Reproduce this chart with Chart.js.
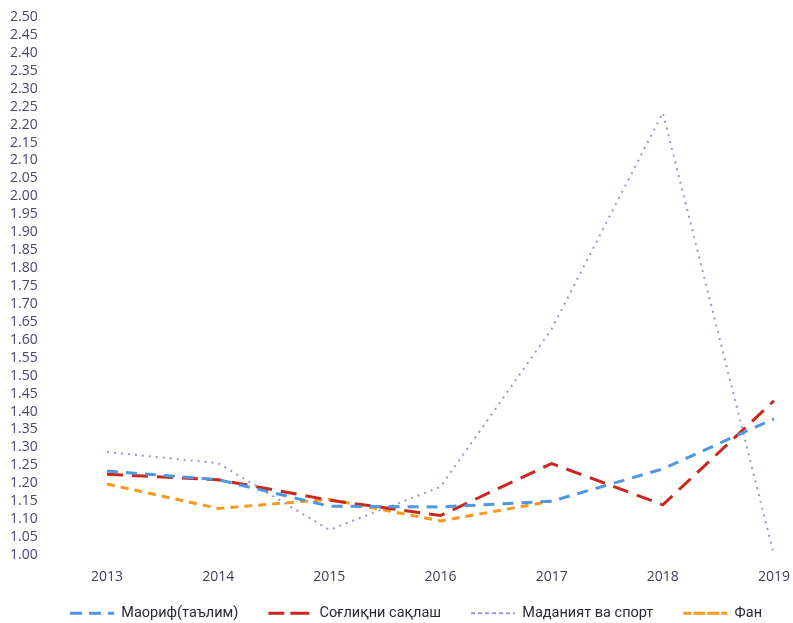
<!DOCTYPE html>
<html lang="uz">
<head>
  <meta charset="UTF-8" />
  <title>Индекслар</title>
  <script src="https://cdn.jsdelivr.net/npm/chart.js"></script>
  <style>
    html, body {
      margin: 0;
      padding: 0;
      background: #ffffff;
      overflow: hidden;
    }
    #wrap {
      width: 793px;
      height: 623px;
    }
  </style>
</head>
<body>
  <div id="wrap"><canvas id="chart"></canvas></div>

  <script>
    const years = ['2013', '2014', '2015', '2016', '2017', '2018', '2019'];

    const maorif = [1.234, 1.21, 1.136, 1.134, 1.15, 1.24, 1.38];
    const soglik = [1.225, 1.21, 1.153, 1.11, 1.255, 1.14, 1.43];
    const madaniyat = [1.287, 1.256, 1.07, 1.19, 1.63, 2.233, 1.00];
    const fan = [1.198, 1.13, 1.155, 1.095, 1.15, null, null];

    const seriesNames = ['Маориф(таълим)', 'Соғлиқни сақлаш', 'Маданият ва спорт', 'Фан'];

    // one legend row with wide gaps, but a short legend box
    const legendHeight = {
      id: 'legendHeight',
      beforeLayout(chart) {
        const lg = chart.legend;
        if (lg && !lg._fitPatched) {
          const fit = lg.fit;
          lg.fit = function () {
            const mw = this.maxWidth;
            this.maxWidth = mw + 200;
            fit.call(this);
            this.maxWidth = mw;
            this.width = mw;
            this.height = 32;
          };
          lg._fitPatched = true;
        }
      },
      afterLayout(chart) {
        if (chart.legend) {
          chart.legend.top -= 15;
          chart.legend.left += 30;
        }
      }
    };

    const ctx = document.getElementById('chart').getContext('2d');

    new Chart(ctx, {
      type: 'line',
      data: {
        labels: years,
        datasets: [
          {
            label: seriesNames[0],
            data: maorif,
            borderColor: '#4f97df',
            backgroundColor: 'transparent',
            borderWidth: 3,
            borderDash: [11, 8],
            pointRadius: 0,
            tension: 0
          },
          {
            label: seriesNames[1],
            data: soglik,
            borderColor: '#c8281e',
            backgroundColor: 'transparent',
            borderWidth: 3,
            borderDash: [16, 9],
            pointRadius: 0,
            tension: 0
          },
          {
            label: seriesNames[2],
            data: madaniyat,
            borderColor: '#9a94d8',
            backgroundColor: 'transparent',
            borderWidth: 2,
            borderDash: [2, 5],
            pointRadius: 0,
            tension: 0
          },
          {
            label: seriesNames[3],
            data: fan,
            borderColor: '#f39a1f',
            backgroundColor: 'transparent',
            borderWidth: 3,
            borderDash: [8, 6],
            pointRadius: 0,
            tension: 0
          }
        ]
      },
      options: {
        responsive: true,
        maintainAspectRatio: false,
        animation: false,
        layout: {
          padding: { left: 10, right: 0, top: 17, bottom: 0 }
        },
        scales: {
          x: {
            offset: false,
            grid: { display: false, drawTicks: false, tickLength: 0 },
            border: { display: false },
            afterFit: axis => {
              axis.height = 36;
              axis.paddingLeft = 0;
              axis.paddingRight = 19;
            },
            ticks: {
              color: '#433a5e',
              font: { family: 'Open Sans', size: 14 },
              padding: 14,
              maxRotation: 0
            }
          },
          y: {
            min: 1.0,
            max: 2.5,
            grid: { display: false },
            border: { display: false },
            afterFit: axis => { axis.width = 97; },
            ticks: {
              stepSize: 0.05,
              autoSkip: false,
              crossAlign: 'far',
              color: '#4d4373',
              font: { family: 'Open Sans', size: 14 },
              callback: v => Number(v).toFixed(2)
            }
          }
        },
        plugins: {
          legend: {
            position: 'bottom',
            align: 'start',
            labels: {
              boxWidth: 44,
              boxHeight: 0,
              padding: 30,
              color: '#2a2838',
              font: { family: 'Roboto', size: 14.5 }
            }
          },
          tooltip: { enabled: false }
        }
      },
      plugins: [legendHeight]
    });
  </script>
</body>
</html>
